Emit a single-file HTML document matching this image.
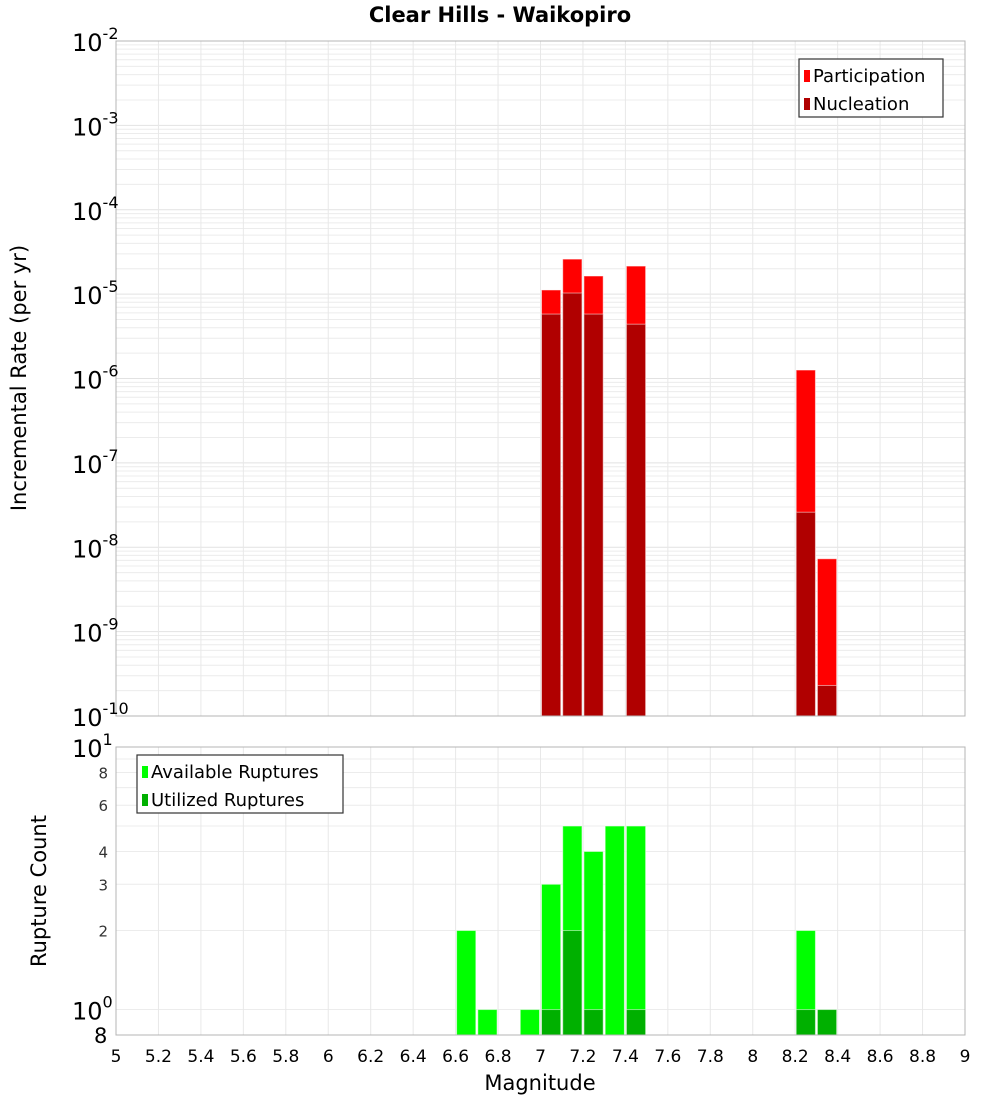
<!DOCTYPE html>
<html><head><meta charset="utf-8"><style>
body{margin:0;background:#fff;}
svg text{font-family:"DejaVu Sans","Liberation Sans",sans-serif;}
</style></head><body>
<svg id="c" width="1000" height="1100" xmlns="http://www.w3.org/2000/svg">
<text x="500" y="22" text-anchor="middle" font-size="21" font-weight="bold">Clear Hills - Waikopiro</text>
<g id="topPlot"></g>
<g id="botPlot"></g>
<text x="540" y="1090" text-anchor="middle" font-size="21">Magnitude</text>
<text transform="translate(26,378) rotate(-90)" text-anchor="middle" font-size="21">Incremental Rate (per yr)</text>
<text transform="translate(46,891) rotate(-90)" text-anchor="middle" font-size="21">Rupture Count</text>
</svg>
<script>
const magBins=[7.05,7.15,7.25,7.45,8.25,8.35];
const participation=[1.12e-5,2.6e-5,1.64e-5,2.15e-5,1.26e-6,7.3e-9];
const nucleation=[5.8e-6,1.03e-5,5.8e-6,4.4e-6,2.6e-8,2.3e-10];
const countBins=[6.65,6.75,6.95,7.05,7.15,7.25,7.35,7.45,8.25,8.35];
const available=[2,1,1,3,5,4,5,5,2,1];
const utilized=[0,0,0,1,2,1,0,1,1,1];
const xTicks=[5,5.2,5.4,5.6,5.8,6,6.2,6.4,6.6,6.8,7,7.2,7.4,7.6,7.8,8,8.2,8.4,8.6,8.8,9];
const rateExps=[-2,-3,-4,-5,-6,-7,-8,-9,-10];
const countTicks=[2,3,4,6,8];

const NS="http://www.w3.org/2000/svg";
const L=116,R=965,T1=41,B1=716,T2=747,B2=1035;
const xs=m=>L+(m-5)/4*(R-L);
const y1=v=>T1+(-2-Math.log10(v))/8*(B1-T1);
const y2=v=>T2+(1-Math.log10(v))/(1-Math.log10(0.8))*(B2-T2);
function mk(p,tag,a){const e=document.createElementNS(NS,tag);for(const k in a)e.setAttribute(k,a[k]);p.appendChild(e);return e;}
const gTop=document.getElementById('topPlot'),gBot=document.getElementById('botPlot');

for(let d=-10;d<-2;d++)for(let k=1;k<10;k++){const y=y1(k*Math.pow(10,d));const g=mk(gTop,'line',{x1:L,x2:R,y1:y,y2:y,stroke:k==1?'#e2e2e2':'#ececec','stroke-width':1});

}
for(const v of [1,2,3,4,5,6,7,8,9,10]){const y=y2(v);const g=mk(gBot,'line',{x1:L,x2:R,y1:y,y2:y,stroke:'#ececec'});

}
for(const t of xTicks){const x=xs(t);
for(const [p,a,b] of [[gTop,T1,B1],[gBot,T2,B2]]){const g=mk(p,'line',{x1:x,x2:x,y1:a,y2:b,stroke:'#e8e8e8'});

}
const tx=mk(gBot,'text',{x:x,y:1062,'text-anchor':'middle','font-size':17});tx.textContent=String(t);

}

const bw=(R-L)/40;
function bar(p,m,y,base,fill,name){const r=mk(p,'rect',{x:xs(m)-bw/2+1,y:y,width:bw-2,height:base-y,fill:fill,stroke:'rgba(255,255,255,0.5)','stroke-width':1});

}
magBins.forEach((m,i)=>bar(gTop,m,y1(participation[i]),B1,'#ff0000','participation-bar'));
magBins.forEach((m,i)=>bar(gTop,m,y1(nucleation[i]),B1,'#b00000','nucleation-bar'));
countBins.forEach((m,i)=>{if(available[i]>0)bar(gBot,m,y2(available[i]),B2,'#00ff00','available-bar');});
countBins.forEach((m,i)=>{if(utilized[i]>0)bar(gBot,m,y2(utilized[i]),B2,'#00b000','utilized-bar');});

for(const [p,a,b] of [[gTop,T1,B1],[gBot,T2,B2]]){const f=mk(p,'rect',{x:L,y:a,width:R-L,height:b-a,fill:'none',stroke:'#b4b4b4'});

}

for(const e of rateExps){const y=y1(Math.pow(10,e));const t=mk(gTop,'text',{x:72,y:y+10,'font-size':24});
t.innerHTML='10<tspan dy="-12" font-size="16">'+e+'</tspan>';

}
{const t=mk(gBot,'text',{x:72,y:y2(10)+10,'font-size':24});t.innerHTML='10<tspan dy="-12" font-size="16">1</tspan>';

}
{const t=mk(gBot,'text',{x:72,y:y2(1)+10,'font-size':24});t.innerHTML='10<tspan dy="-12" font-size="16">0</tspan>';

}
{const t=mk(gBot,'text',{x:94,y:y2(0.8)+8,'font-size':21});t.textContent='8';

}
for(const v of countTicks){const t=mk(gBot,'text',{x:108,y:y2(v)+6,'font-size':15,'text-anchor':'end',fill:'#333'});t.textContent=String(v);

}

function legend(p,x,y,w,items,name){const g=mk(p,'g',{});


mk(g,'rect',{x:x,y:y,width:w,height:58,fill:'#fff',stroke:'#333','stroke-width':1.2});
items.forEach((it,i)=>{mk(g,'rect',{x:x+5,y:y+11+i*28,width:6,height:12,fill:it[1]});
const t=mk(g,'text',{x:x+14,y:y+23+i*28,'font-size':18});t.textContent=it[0];

});}
legend(gTop,799,59,144,[['Participation','#ff0000'],['Nucleation','#b00000']],'rate-legend');
legend(gBot,137,755,206,[['Available Ruptures','#00ff00'],['Utilized Ruptures','#00b000']],'count-legend');
</script>
</body></html>
